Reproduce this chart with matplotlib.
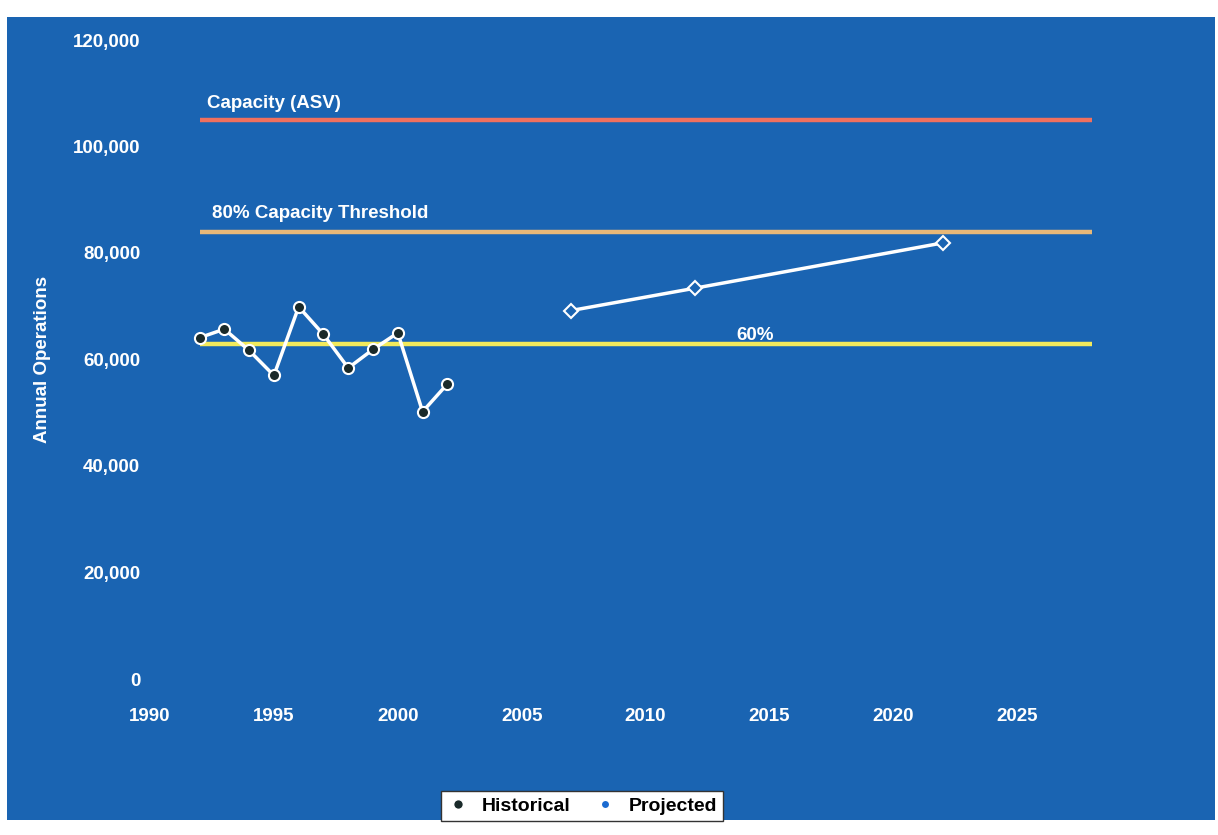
import matplotlib
matplotlib.use("Agg")
import matplotlib.pyplot as plt
from matplotlib.patches import Rectangle
from matplotlib.lines import Line2D

plt.rcParams['font.family'] = ['Liberation Sans', 'DejaVu Sans']

# historical operations
hist_years = [1992, 1993, 1994, 1995, 1996, 1997, 1998, 1999, 2000, 2001, 2002]
hist_ops = [64100, 65700, 61700, 57000, 69900, 64700, 58400, 61900, 65000, 50200, 55400]

# projected operations
proj_years = [2007, 2012, 2022]
proj_ops = [69200, 73400, 81900]

# capacity levels
asv = 105000
threshold_80 = 84000
threshold_60 = 63000
line_years = [1992, 2028]

bg_blue = '#1a64b2'

fig = plt.figure(figsize=(12.18, 8.35), dpi=100)
fig.patch.set_facecolor('white')
# blue panel behind the chart
fig.patches.append(Rectangle((7 / 1218, 1 - 820 / 835), 1208 / 1218, 803 / 835,
                             transform=fig.transFigure, facecolor=bg_blue,
                             edgecolor='none', zorder=-10))

ax = fig.add_axes([150 / 1218, 1 - 679 / 835, (1166 - 150) / 1218, (679 - 40) / 835])
ax.set_zorder(2)
ax.set_facecolor('none')
ax.set_xlim(1990, 2031)
ax.set_ylim(0, 120000)

ax.plot(line_years, [asv, asv], color='#f0705e', lw=3.2, solid_capstyle='butt')
ax.plot(line_years, [threshold_80, threshold_80], color='#e8b878', lw=3.2, solid_capstyle='butt')
ax.plot(line_years, [threshold_60, threshold_60], color='#f2ea5c', lw=3.2, solid_capstyle='butt')

ax.plot(hist_years, hist_ops, color='white', lw=2.5, marker='o', ms=8,
        markerfacecolor='#1a2a2a', markeredgecolor='white', markeredgewidth=1.5, zorder=4)
ax.plot(proj_years, proj_ops, color='white', lw=2.5, marker='D', ms=7,
        markerfacecolor=bg_blue, markeredgecolor='white', markeredgewidth=1.5, zorder=4)

txt = dict(color='white', fontsize=13.5, fontweight='bold', va='center')
ax.text(1992.3, 108000, 'Capacity (ASV)', **txt)
ax.text(1992.5, 87400, '80% Capacity Threshold', **txt)
ax.text(2014.4, 64600, '60%', ha='center', **txt)

ax.set_yticks(range(0, 120001, 20000))
ax.set_yticklabels([f'{v:,}' for v in range(0, 120001, 20000)])
ax.set_xticks(range(1990, 2026, 5))
ax.tick_params(axis='both', colors='white', labelsize=13.5, length=0)
ax.tick_params(axis='x', pad=21)
ax.tick_params(axis='y', pad=7)
for lbl in ax.get_xticklabels() + ax.get_yticklabels():
    lbl.set_fontweight('bold')
for s in ax.spines.values():
    s.set_visible(False)

ax.set_ylabel('Annual Operations', color='white', fontsize=13.5, fontweight='bold', labelpad=16)

handles = [
    Line2D([], [], ls='none', marker='o', ms=7, markerfacecolor='#1a2a2a', markeredgecolor='white'),
    Line2D([], [], ls='none', marker='o', ms=6, markerfacecolor='#1a6ad0', markeredgecolor='white'),
]
fig.legend(handles, ['Historical', 'Projected'], loc='center', bbox_to_anchor=(582 / 1218, 1 - 806 / 835),
           ncol=2, prop={'size': 14, 'weight': 'bold'}, frameon=True, fancybox=False,
           edgecolor='#333333', facecolor='white', framealpha=1, handlelength=1.2,
           handletextpad=0.6, columnspacing=1.2, borderpad=0.3)

fig.savefig('out.png', dpi=100)
